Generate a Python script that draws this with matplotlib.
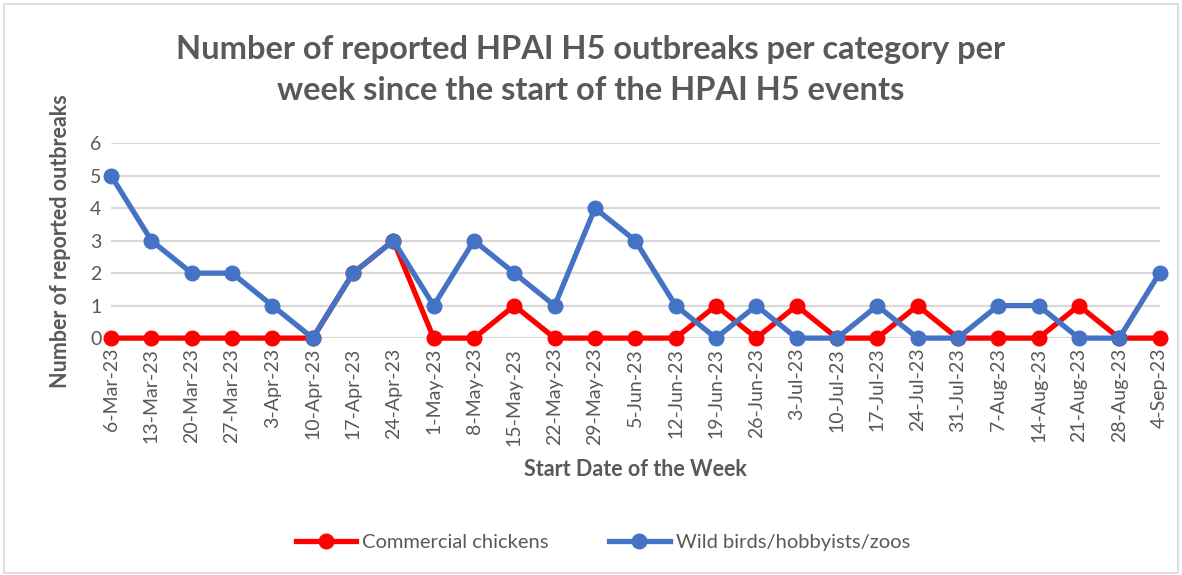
import matplotlib.pyplot as plt
from matplotlib.patches import Rectangle

weeks = ["6-Mar-23", "13-Mar-23", "20-Mar-23", "27-Mar-23", "3-Apr-23", "10-Apr-23",
         "17-Apr-23", "24-Apr-23", "1-May-23", "8-May-23", "15-May-23", "22-May-23",
         "29-May-23", "5-Jun-23", "12-Jun-23", "19-Jun-23", "26-Jun-23", "3-Jul-23",
         "10-Jul-23", "17-Jul-23", "24-Jul-23", "31-Jul-23", "7-Aug-23", "14-Aug-23",
         "21-Aug-23", "28-Aug-23", "4-Sep-23"]
chickens = [0, 0, 0, 0, 0, 0, 2, 3, 0, 0, 1, 0, 0, 0, 0, 1, 0, 1, 0, 0, 1, 0, 0, 0, 1, 0, 0]
wild = [5, 3, 2, 2, 1, 0, 2, 3, 1, 3, 2, 1, 4, 3, 1, 0, 1, 0, 0, 1, 0, 0, 1, 1, 0, 0, 2]

plt.rcParams['font.family'] = ['Lato', 'DejaVu Sans']
grey = '#595959'

fig = plt.figure(figsize=(11.82, 5.75), dpi=100)
ax = fig.add_axes([0.094, 0.412, 0.887, 0.339])

x = list(range(len(weeks)))
ax.plot(x, chickens, color='#ff0000', lw=3.8, marker='o', ms=10.5, label='Commercial chickens',
        zorder=3, clip_on=False)
ax.plot(x, wild, color='#4472c4', lw=3.8, marker='o', ms=10.5, label='Wild birds/hobbyists/zoos',
        zorder=4, clip_on=False)

ax.set_xlim(0, len(weeks) - 1)
ax.set_ylim(0, 6)
ax.set_yticks(range(7))
ax.set_xticks(x)
ax.set_xticklabels(weeks, rotation=90)
ax.tick_params(axis='both', colors=grey, labelsize=14, length=0, pad=7)
ax.grid(axis='y', color='#d9d9d9', lw=1.6)
ax.set_axisbelow(True)
for s in ax.spines.values():
    s.set_visible(False)

ax.set_xlabel('Start Date of the Week', fontsize=15.5, fontweight='bold', color=grey, labelpad=10)
ax.set_ylabel('Number of reported outbreaks', fontsize=15.5, fontweight='bold', color=grey, labelpad=14)

fig.suptitle('Number of reported HPAI H5 outbreaks per category per\nweek since the start of the HPAI H5 events',
             fontsize=23.5, fontweight='bold', color=grey, y=0.94, linespacing=1.5)

leg = fig.legend(loc='center', bbox_to_anchor=(0.51, 0.056), ncol=2, frameon=False,
                 fontsize=14.5, handlelength=3, columnspacing=3, handletextpad=0.3)
for t in leg.get_texts():
    t.set_color(grey)

fig.patches.append(Rectangle((0.003, 0.003), 0.994, 0.99, transform=fig.transFigure,
                             fill=False, edgecolor='#d9d9d9', lw=1.2))

fig.savefig('out.png', dpi=100)
